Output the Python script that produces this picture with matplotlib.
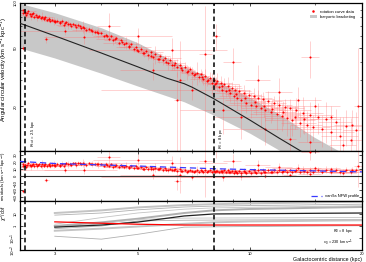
import numpy as np
import matplotlib
matplotlib.use("Agg")
import matplotlib.pyplot as plt
from matplotlib.ticker import FixedLocator, NullFormatter, FixedFormatter

plt.rcParams['font.family'] = ['Liberation Sans', 'DejaVu Sans']
plt.rcParams['mathtext.fontset'] = 'dejavusans'

# ---------------- data: rotation curve (R [kpc], omega [km/s/kpc], errors) -------------
R_a = [2.46,2.47,2.49,2.51,2.53,2.55,2.57,2.59,2.62,2.64,2.67,2.69,2.72,2.75,2.77,2.80,2.83,2.86,2.89,2.92,
       2.95,2.98,3.01,3.05,3.09,3.13,3.17,3.21,3.26,3.31,3.36,3.41,3.46,3.52,3.58,3.64,3.70,3.77,3.84,3.92]
w_a = [89,85,87,83,86,88,84,82,85,81,83,80,82,79,81,78,80,77,78,75,
       77,76,74,76,73,75,71,74,72,70,72,69,71,68,69,66,67,65,64,63]
eR_a = [0.05,0.08,0.04,0.10,0.06,0.12,0.05,0.09,0.07,0.15,0.05,0.10,0.08,0.06,0.20,0.07,0.09,0.05,0.12,0.08,
        0.06,0.18,0.07,0.10,0.05,0.09,0.14,0.06,0.08,0.25,0.07,0.10,0.06,0.12,0.08,0.30,0.09,0.07,0.15,0.10]
ew_a = [2,3,1.5,4,2,3,2.5,5,2,3,1.5,4,2,3,6,2,2.5,3,4,2,3,5,2,3,2.5,4,3,2,5,3,2,4,3,2,6,3,2.5,4,3,5]

R_b = [4.00,4.06,4.12,4.18,4.25,4.31,4.38,4.45,4.52,4.59,4.66,4.73,4.80,4.88,4.95,5.03,5.10,5.18,5.26,5.34,
       5.42,5.50,5.58,5.67,5.75,5.84,5.93,6.02,6.11,6.20,6.30,6.40,6.50,6.60,6.70,6.80,6.90,7.00,7.10,7.20,
       7.30,7.40,7.50,7.60,7.70,7.80,7.90,8.00,8.05,8.15]
w_b = [63,59.5,61,57.5,59.5,56,57.8,54,56,52.5,54,50.8,52.5,49,50.8,47.5,49.2,46.2,47.6,44.8,
       46.3,43.4,45,42,43.6,40.9,42.3,39.5,40.9,38.2,39.5,36.7,38.2,35.4,36.8,34.1,35.6,33.8,32.5,33.9,
       31.4,32.9,30.5,32.0,29.6,31.1,28.9,30.2,28.3,29.6]
eR_b = [0.10,0.20,0.15,0.30,0.12,0.25,0.18,0.40,0.15,0.22,0.10,0.35,0.20,0.15,0.50,0.18,0.25,0.12,0.30,0.20,
        0.45,0.15,0.25,0.18,0.35,0.20,0.60,0.15,0.30,0.22,0.40,0.18,0.25,0.50,0.20,0.30,0.15,0.45,0.25,0.20,
        0.35,0.18,0.60,0.22,0.30,0.25,0.40,0.20,0.35,0.30]
ew_b = [1.5,2,3,1.5,2.5,4,2,3,1.5,2.5,5,2,3,2,4,1.5,3,2.5,2,3.5,2,3,6,2,2.5,3,2,4,2.5,3,
        2,5,2.5,2,3,4,2,3,2.5,6,2,3,2.5,4,2,3,5,2.5,3,4]

R_c = [8.25,8.35,8.45,8.55,8.65,8.75,8.85,8.95,9.05,9.15,9.25,9.35,9.50,9.65,9.80,9.95,10.1,10.25,10.4,10.55,
       10.7,10.85,11.0,11.2,11.4,11.6,11.8,12.0,12.2,12.4,12.6,12.8,13.0,13.3,13.6,13.9,14.2,14.5,14.8,15.2,
       15.6,16.0,16.5,17.0,17.5,18.1,18.7,19.3]
w_c = [27.0,28.9,26.0,28.3,25.3,27.6,24.6,26.8,23.5,25.8,22.9,25.3,22.0,24.6,21.2,23.9,20.6,23.5,20.1,22.9,
       19.4,22.4,19.0,21.8,18.4,21.0,17.8,20.4,17.2,19.9,16.6,19.4,16.2,18.8,15.5,18.2,15.0,17.6,14.6,17.0,
       14.1,16.4,13.4,15.6,12.6,14.8,11.8,13.9]
eR_c = [0.4,0.6,0.5,0.8,0.5,0.7,1.0,0.6,0.8,0.5,1.2,0.7,0.9,0.6,1.0,0.8,1.5,0.7,1.0,0.9,
        1.2,0.8,1.5,1.0,1.2,0.9,1.8,1.0,1.3,1.1,1.6,1.2,2.0,1.3,1.5,1.8,1.4,2.2,1.6,1.8,
        2.0,1.5,2.5,1.8,2.0,2.5,2.2,1.5]
ew_c = [2,3,2.5,3,2,4,3,2.5,3,2,4,3,2.5,3.5,3,2,4,3,2.5,3,
        5,2.5,3,3.5,3,2.5,4,3,3.5,2.5,4,3,3.5,4,3,5,3.5,4,3,4,
        3.5,5,4,3.5,4.5,4,5,4.5]

R_d = [2.50,2.60,2.70,2.80,2.90,3.00,3.10,3.20,3.30,3.40,3.50,3.60,3.75,3.90,4.15,4.35,4.55,4.75,4.98,5.20,
       5.45,5.70,5.95,6.25,6.55,6.85,7.15,7.45,7.75,8.10,8.40,8.80,9.20,9.70,10.3,10.9,11.5,12.3,13.2,14.0]
w_d = [86,84,81,79,78,76,74,73,72,71,70,68,66,64,59.5,57,54.2,51.5,48.5,46,
       43.7,42,40,38,36.5,34.8,33,31.6,30.2,29,27.4,25.8,24.3,22.8,21.6,20.1,19.2,18.3,17.1,16.5]
eR_d = [0.04,0.06,0.05,0.08,0.05,0.07,0.06,0.09,0.05,0.08,0.06,0.10,0.08,0.12,0.15,0.10,0.20,0.12,0.18,0.15,
        0.25,0.20,0.30,0.22,0.35,0.25,0.40,0.30,0.35,0.40,0.50,0.45,0.60,0.55,0.70,0.80,0.90,1.00,1.20,1.30]
ew_d = [1.5,2,1.5,2.5,2,1.5,3,2,2.5,1.5,2,3,2,2.5,2,3,2,2.5,1.5,3,2,2.5,2,3,2,2.5,2,3,2,2.5,
        2,3,2.5,3,2.5,3,3,3.5,3,3.5]

R_e = [2.47,2.85,3.2,3.6,4.2,5.0,5.5,6.2,6.5,7.0,7.6,8.1,8.5,9.0,9.5,10.5,11.0,12.0,12.8,13.5,
       14.5,14.5,15.0,16.5,17.8,18.8,19.5,6.4]
w_e = [50,57,65,59,70,60,35,48,30,26,45,60,19,40,17,30,14,25,12,22,11.5,43,20,17,11,15,20,22]
eR_e = [0.02,0.05,0.9,0.8,0.3,1.2,1.0,2.5,0.2,3.0,0.3,0.2,2.0,0.5,1.5,0.8,2.5,1.0,0.5,2.0,
        1.0,0.8,2.5,3.0,1.5,2.0,0.5,0.15]
ew_e = [2,3,4,6,15,8,5,10,25,4,50,12,6,10,5,8,3,6,3,5,2,12,3,3,6,4,30,12]

R_data = R_a + R_b + R_c + R_d + R_e
w_data = w_a + w_b + w_c + w_d + w_e
eR_data = eR_a + eR_b + eR_c + eR_d + eR_e
ew_data = ew_a + ew_b + ew_c + ew_d + ew_e

# ---------------- baryonic model (black curve) and bracketing band -------------
R_model = [2.4, 3, 4, 5, 6, 6.67, 7, 8, 10, 12, 13.7, 14, 17, 20]
w_model = [73.5, 60.0, 45.9, 37.1, 31.0, 28.5, 27.0, 22.6, 16.2, 12.2, 10.0, 9.68, 7.08, 5.36]
R_band = [2.4, 3, 4, 5, 6.67, 8, 10, 12.1, 14.8, 20]
w_band_hi = [100, 86, 68, 54, 37, 30.5, 23, 17.5, 12.5, 8.2]
w_band_lo = [50, 42.5, 33.5, 27.5, 21.5, 17.5, 13.2, 10.0, 7.4, 4.8]

# ---------------- NFW residual curve -------------
R_nfw = [2.42, 3, 4, 5, 6, 8, 10, 13, 16, 20]
res_nfw = [20.4, 17.5, 15.5, 14.0, 12.5, 10.2, 9.0, 7.8, 6.8, 5.8]

# ---------------- chi2/dof curves -------------
R_chi = [3, 4, 5, 6.67, 8, 10, 13, 16, 20]
chi_grey = [
    [12, 20, 35, 55, 65, 75, 85, 95, 105],
    [8, 12, 22, 38, 45, 50, 55, 60, 65],
    [1.4, 5, 12, 25, 32, 36, 40, 44, 48],
    [1.0, 2, 4, 12, 20, 26, 30, 34, 38],
    [0.8, 1.5, 3.5, 4.5, 4.6, 4.7, 4.8, 5.0, 5.2],
    [0.6, 1.0, 2.6, 3.0, 3.1, 3.2, 3.3, 3.4, 3.5],
    [0.4, 0.6, 0.9, 1.5, 2.0, 2.4, 2.6, 2.8, 3.0],
    [0.14, 0.08, 0.2, 0.8, 0.85, 0.9, 0.95, 1.0, 1.05],
]
chi_black = [0.8, 1.2, 2.1, 6.8, 10, 10.5, 11, 11.5, 12]
chi_red = [2.2, 1.7, 1.4, 1.2, 1.2, 1.2, 1.2, 1.2, 1.2]

R_cut = 2.5
R_0 = 8.0

xticks = [3, 5, 10, 20]
xminor = [4, 6, 7, 8, 9, 15]

# ---------------- figure -------------
W, H = 366, 262
fig = plt.figure(figsize=(W / 100, H / 100), dpi=100)
L = 20 / W
Wd = 342 / W
ax1 = fig.add_axes([L, 1 - 151 / H, Wd, 148 / H])
ax2 = fig.add_axes([L, 1 - 201 / H, Wd, 50 / H])
ax3 = fig.add_axes([L, 1 - 250 / H, Wd, 49 / H])

xlim = (2.42, 20)
tfs = 3.0
for ax in (ax1, ax2, ax3):
    ax.set_xscale('log')
    ax.set_xlim(*xlim)
    ax.xaxis.set_major_locator(FixedLocator(xticks))
    ax.xaxis.set_minor_locator(FixedLocator(xminor))
    ax.xaxis.set_minor_formatter(NullFormatter())
    ax.tick_params(which='both', direction='in', top=True, right=True, labelsize=tfs, pad=1.5)
    ax.tick_params(which='major', length=2.5, width=0.5)
    ax.tick_params(which='minor', length=1.5, width=0.4)
    for s in ax.spines.values():
        s.set_linewidth(0.9)
    ax.axvline(R_cut, color='black', lw=1.1, ls=(0, (3, 2)), zorder=6)
    ax.axvline(R_0, color='black', lw=1.1, ls=(0, (3, 2)), zorder=6)

ax1.tick_params(labelbottom=False)
ax2.tick_params(labelbottom=False)
ax3.xaxis.set_major_formatter(FixedFormatter([str(t) for t in xticks]))

# ---- top panel
R_arr = np.array(R_data)
w_arr = np.array(w_data)
eR_arr = np.array(eR_data)
ew_arr = np.array(ew_data)
ax1.set_yscale('log')
ax1.set_ylim(10, 100)
band = ax1.fill_between(R_band, w_band_lo, w_band_hi, color='#c8c8c8', lw=0, zorder=1)
ax1.errorbar(R_arr, w_arr, xerr=eR_arr, yerr=ew_arr, fmt='none', ecolor='#ff7070',
             elinewidth=0.45, alpha=0.5, zorder=2)
pts, = ax1.plot(R_arr, w_arr, 'o', ms=1.5, color='red', mec='none', zorder=3)
ax1.plot(R_model, w_model, color='#222222', lw=0.8, zorder=4)
ax1.yaxis.set_major_locator(FixedLocator([20, 50, 100]))
ax1.yaxis.set_major_formatter(FixedFormatter(['20', '50', '100']))
ax1.yaxis.set_minor_locator(FixedLocator([30, 40, 60, 70, 80, 90]))
ax1.yaxis.set_minor_formatter(NullFormatter())
ax1.set_ylabel(r'Angular circular velocity (km s$^{-1}$ kpc$^{-1}$)', fontsize=4.2, labelpad=2)
ax1.yaxis.set_label_coords(-0.032, 0.55)
ax1.legend([pts, band], ['rotation curve data', 'baryonic bracketing'],
           loc='upper right', fontsize=3, frameon=False, handlelength=1.6,
           borderaxespad=1.2, labelspacing=0.4, markerscale=1.2)
ax1.text(2.56, 10.6, r'$R_{\rm cut}$ = 2.5 kpc', rotation=90, fontsize=3, ha='left', va='bottom')
ax1.text(8.15, 10.3, r'$R_0$ = 8 kpc', rotation=90, fontsize=3, ha='left', va='bottom')

# ---- middle panel (residuals)
w_mod_at_data = np.exp(np.interp(np.log(R_arr), np.log(R_model), np.log(w_model)))
resid = w_arr - w_mod_at_data
ax2.set_ylim(-35, 35)
ax2.axhline(0, color='#333333', lw=0.8, zorder=4)
ax2.errorbar(R_arr, resid, xerr=eR_arr, yerr=ew_arr, fmt='none', ecolor='#ff7070',
             elinewidth=0.45, alpha=0.5, zorder=2)
ax2.plot(R_arr, resid, 'o', ms=1.5, color='red', mec='none', zorder=3)
ax2.plot(R_nfw, res_nfw, color='#3a3aff', lw=0.9, ls=(0, (5, 3)), zorder=5,
         label='vanilla NFW profile')
ax2.yaxis.set_major_locator(FixedLocator([-30, -20, -10, 0, 10, 20, 30]))
ax2.set_ylabel(r'residuals (km s$^{-1}$ kpc$^{-1}$)', fontsize=3.2, labelpad=1)
ax2.yaxis.set_label_coords(-0.032, 0.5)
ax2.legend(loc='lower right', fontsize=3, frameon=False, handlelength=2.5, borderaxespad=0.3)

# ---- bottom panel (chi2/dof)
ax3.set_yscale('log')
ax3.set_ylim(1e-2, 1.2e2)
for i, g in enumerate(chi_grey):
    ax3.plot(R_chi, g, color='#b0b0b0' if i % 2 else '#c4c4c4', lw=0.6 if i % 3 else 1.4, zorder=2)
ax3.plot(R_chi, chi_black, color='#222222', lw=0.9, zorder=4)
ax3.plot(R_chi, chi_red, color='red', lw=0.9, zorder=4)
ax3.yaxis.set_major_locator(FixedLocator([1e-2, 1e-1, 1, 10]))
ax3.yaxis.set_major_formatter(FixedFormatter([r'$10^{-2}$', r'$10^{-1}$', '1', '10']))
ax3.yaxis.set_minor_locator(FixedLocator([]))
ax3.set_ylabel(r'$\chi^2$/dof', fontsize=3.5, labelpad=1)
ax3.yaxis.set_label_coords(-0.032, 0.75)
ax3.set_xlabel('Galactocentric distance (kpc)', fontsize=3.8, loc='right', labelpad=1)
ax3.text(0.975, 0.06, '$R_0$ = 8 kpc\n$v_0$ = 230 km s$^{-1}$', transform=ax3.transAxes,
         fontsize=2.8, ha='right', va='bottom', linespacing=1.3)

for ax in (ax1, ax2, ax3):
    for lab in ax.get_yticklabels():
        lab.set_rotation(90)
        lab.set_va('center')

fig.savefig('out.png', dpi=100)
